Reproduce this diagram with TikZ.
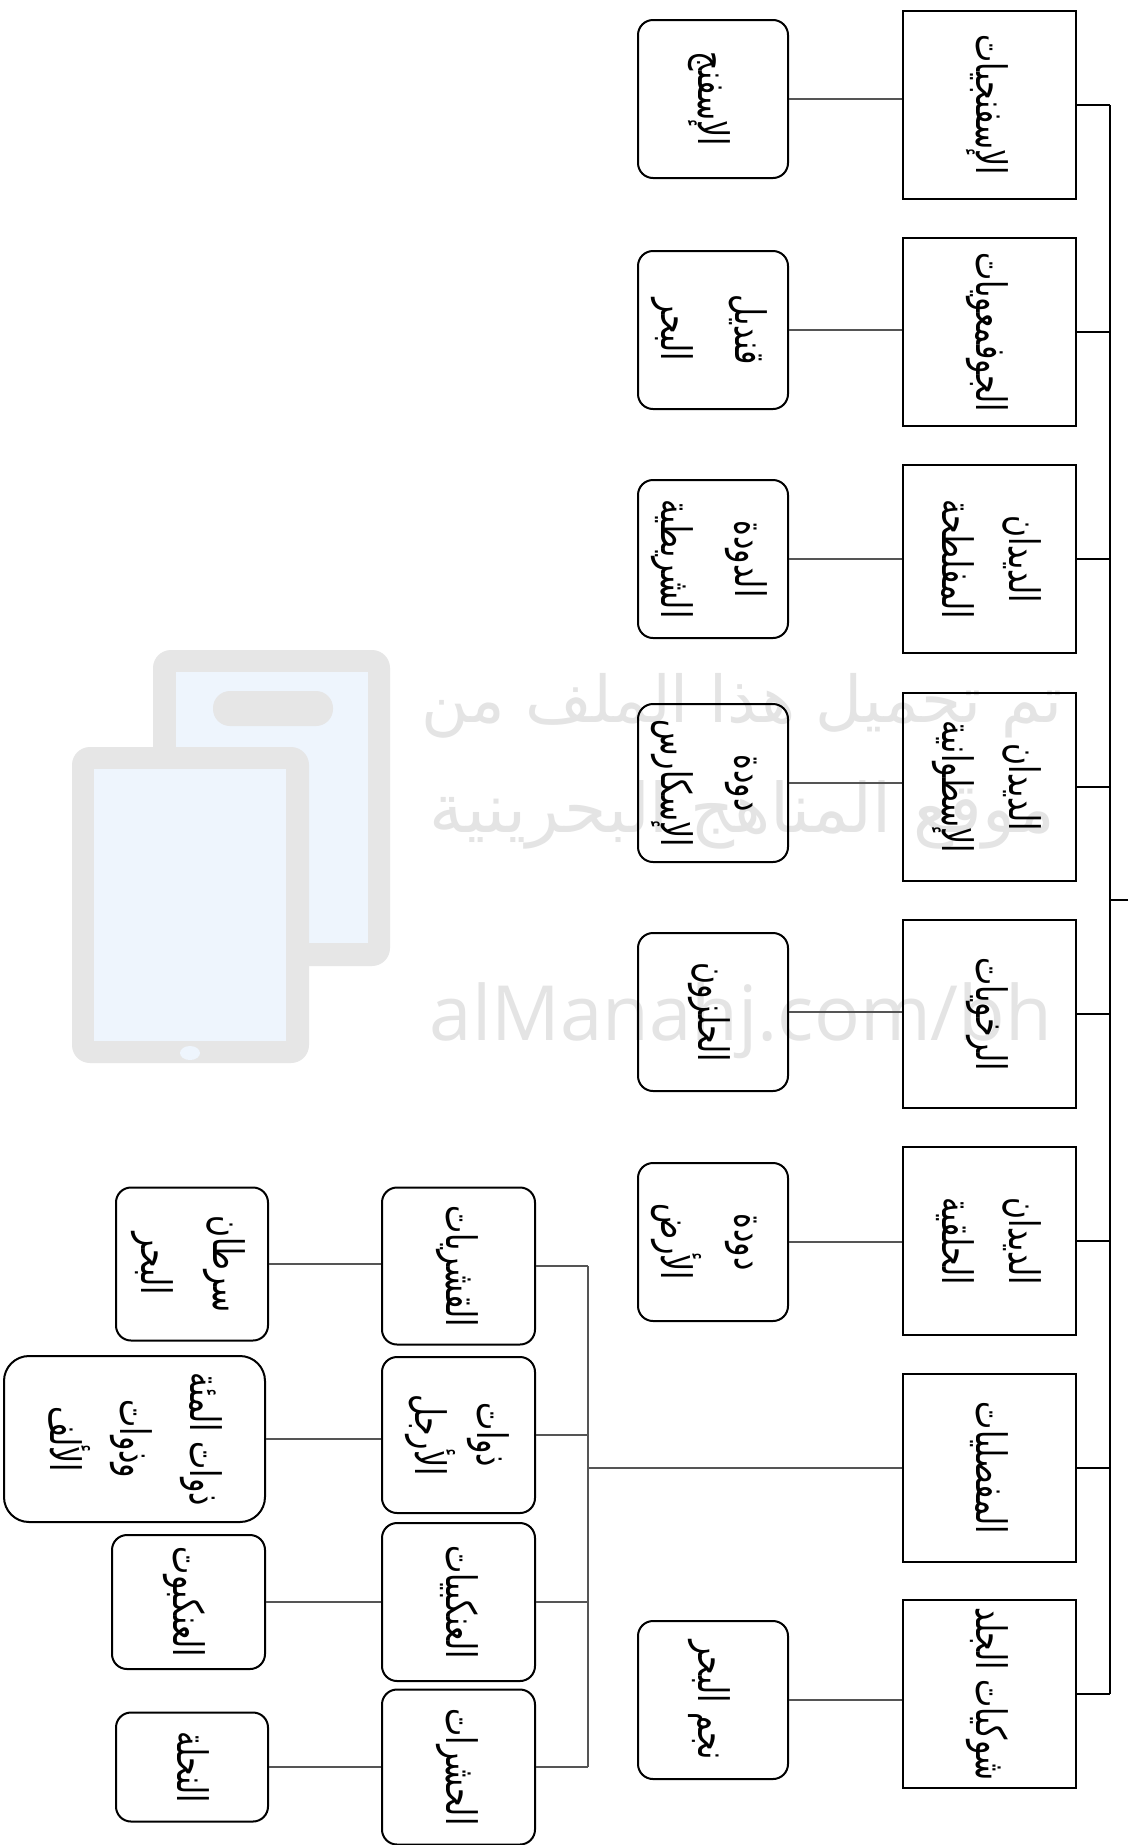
\documentclass[tikz,border=0pt]{standalone}
\usepackage{fontspec}
\usepackage{graphicx}
\setmainfont{DejaVu Sans}
\newfontfamily\arabicfont[Script=Arabic]{DejaVu Sans}
\newfontfamily\arabicwm[Script=Arabic]{DejaVu Sans}
\newfontfamily\latinwm{Open Sans}
\TeXXeTstate=1
\newcommand\ar[1]{\scalebox{1}[1.4]{\arabicfont\beginR #1\endR}}
\newcommand\arw[1]{{\arabicwm\beginR #1\endR}}
\newcommand\vtxt[1]{\rotatebox{-90}{\begin{tabular}{@{}c@{}}#1\end{tabular}}}
\definecolor{wmgray}{HTML}{E6E6E6}
\definecolor{wmtext}{HTML}{E4E4E4}
\definecolor{wmblue}{HTML}{EEF5FD}
\definecolor{lnk}{HTML}{555555}
\begin{document}
\begin{tikzpicture}[x=1pt,y=-1pt,
  mainbox/.style={draw, line width=2.4pt, minimum width=173pt, minimum height=188pt, inner sep=0pt, font=\fontsize{30}{67}\selectfont},
  subbox/.style={draw, line width=2pt, rounded corners=15pt, minimum width=150pt, minimum height=158pt, inner sep=0pt, font=\fontsize{30}{74}\selectfont},
  conn/.style={line width=1.3pt, draw=lnk},
  spine/.style={line width=2.8pt, draw=black},
  wm/.style={text=wmtext, inner sep=0pt}]
\fill[white] (0,0) rectangle (1128,1845);
\useasboundingbox (0,0) rectangle (1128,1845);
% watermark
\fill[wmgray, rounded corners=18pt] (153,650) rectangle (390,966);
\fill[wmblue] (176,672) rectangle (368,943);
\fill[wmgray, rounded corners=17pt] (213,691) rectangle (333,726);
\fill[wmgray, rounded corners=18pt] (72,747) rectangle (309,1063);
\fill[wmblue] (94,769) rectangle (286,1041);
\fill[wmblue] (190,1053) ellipse (10 and 7);
\node[wm] (w1) at (742,706) {\resizebox{641pt}{!}{\arw{تم تحميل هذا الملف من}}};
\node[wm] (w2) at (742,815) {\resizebox{625pt}{!}{\arw{موقع المناهج البحرينية}}};
\node[wm] (w3) at (741,1021) {\resizebox{622pt}{!}{\latinwm alManahj.com/bh}};
% main boxes
\node[mainbox] (m1) at (989.5,105) {\vtxt{\ar{الإسفنجيات}}};
\node[mainbox] (m2) at (989.5,332) {\vtxt{\ar{الجوفمعويات}}};
\node[mainbox] (m3) at (989.5,559) {\vtxt{\ar{الديدان}\\\ar{المفلطحة}}};
\node[mainbox] (m4) at (989.5,787) {\vtxt{\ar{الديدان}\\\ar{الإسطوانية}}};
\node[mainbox] (m5) at (989.5,1014) {\vtxt{\ar{الرخويات}}};
\node[mainbox] (m6) at (989.5,1241) {\vtxt{\ar{الديدان}\\\ar{الحلقية}}};
\node[mainbox] (m7) at (989.5,1468) {\vtxt{\ar{المفصليات}}};
\node[mainbox] (m8) at (989.5,1694) {\vtxt{\ar{شوكيات الجلد}}};
% examples
\node[subbox] (s1) at (713,99) {\vtxt{\ar{الإسفنج}}};
\node[subbox] (s2) at (713,330) {\vtxt{\ar{قنديل}\\\ar{البحر}}};
\node[subbox] (s3) at (713,559) {\vtxt{\ar{الدودة}\\\ar{الشريطية}}};
\node[subbox] (s4) at (713,783) {\vtxt{\ar{دودة}\\\ar{الإسكارس}}};
\node[subbox] (s5) at (713,1012) {\vtxt{\ar{الحلزون}}};
\node[subbox] (s6) at (713,1242) {\vtxt{\ar{دودة}\\\ar{الأرض}}};
\node[subbox] (s8) at (713,1700) {\vtxt{\ar{نجم البحر}}};
% arthropod classes
\node[subbox, minimum width=153pt, minimum height=157pt, font=\fontsize{30}{62}\selectfont] (a1) at (458.5,1266) {\vtxt{\ar{القشريات}}};
\node[subbox, minimum width=153pt, minimum height=156pt, font=\fontsize{30}{62}\selectfont] (a2) at (458.5,1435) {\vtxt{\ar{ذوات}\\\ar{الأرجل}}};
\node[subbox, minimum width=153pt, minimum height=158pt, font=\fontsize{30}{62}\selectfont] (a3) at (458.5,1602) {\vtxt{\ar{العنكبيات}}};
\node[subbox, minimum width=153pt, minimum height=155pt, font=\fontsize{30}{62}\selectfont] (a4) at (458.5,1767) {\vtxt{\ar{الحشرات}}};
% arthropod examples
\node[subbox, minimum width=152pt, minimum height=153pt, font=\fontsize{30}{72}\selectfont] (e1) at (192,1264) {\vtxt{\ar{سرطان}\\\ar{البحر}}};
\node[subbox, minimum width=261pt, minimum height=166pt, rounded corners=25pt, font=\fontsize{30}{70}\selectfont] (e2) at (134.5,1439) {\vtxt{\ar{ذوات المئة}\\\ar{وذوات}\\\ar{الألف}}};
\node[subbox, minimum width=153pt, minimum height=134pt] (e3) at (188.5,1602) {\vtxt{\ar{العنكبوت}}};
\node[subbox, minimum width=152pt, minimum height=109pt] (e4) at (192,1767) {\vtxt{\ar{النحلة}}};
% spine
\coordinate (sp) at (1110,0);
\coordinate (root) at (1128,900);
\draw[spine] (m1.east -| sp) -- (m8.east -| sp);
\draw[conn, draw=black, line width=2pt] (root) -- (root -| sp);
\foreach \i in {1,...,8} {\draw[conn, draw=black, line width=2pt] (m\i.east) -- (m\i.east -| sp);}
\foreach \i in {1,2,3,4,5,6,8} {\draw[conn] (s\i.east) -- (s\i.east -| m\i.west);}
% arthropod bracket
\coordinate (br) at (588,0);
\draw[conn] (m7.west) -- (m7.west -| br);
\draw[conn] (a1.east -| br) -- (a4.east -| br);
\foreach \i in {1,...,4} {\draw[conn] (a\i.east) -- (a\i.east -| br);
  \draw[conn] (e\i.east) -- (e\i.east -| a\i.west);}
\end{tikzpicture}
\end{document}
